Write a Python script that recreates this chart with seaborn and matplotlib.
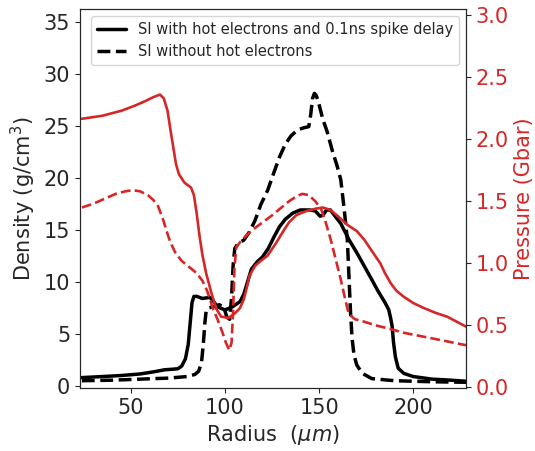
import matplotlib
matplotlib.use("Agg")
import matplotlib.pyplot as plt
import seaborn as sns

# density with hot electrons and 0.1ns spike delay (g/cm^3)
r_hot = [24, 35, 45, 55, 62, 68, 72, 75, 77, 79, 80.5, 81.5, 82.5, 83.5, 85, 88, 92,
         94, 96, 100, 104, 108, 110, 112, 114, 117, 120, 123, 126, 129, 132, 136, 140,
         145, 148, 150.5, 152, 154, 156, 158.5, 161.5, 166, 170, 174, 178, 181, 185,
         187, 188, 188.8, 189.5, 190.5, 192, 195, 200, 210, 220, 228]
rho_hot = [0.8, 0.9, 1.0, 1.15, 1.35, 1.55, 1.6, 1.65, 1.9, 2.6, 4.0, 6.0, 8.0, 8.6,
           8.6, 8.4, 8.5, 8.1, 7.6, 7.3, 7.6, 8.1, 8.8, 10.0, 11.2, 11.9, 12.4, 13.2,
           14.3, 15.3, 16.0, 16.6, 16.9, 16.9, 16.8, 16.3, 16.4, 16.9, 16.9, 16.3, 15.6,
           14.0, 12.8, 11.5, 10.2, 9.2, 8.0, 7.3, 6.5, 5.7, 4.2, 2.8, 1.7, 1.2, 0.9, 0.65,
           0.55, 0.45]

# density without hot electrons
r_cold = [24, 40, 55, 70, 80, 84, 86, 87.5, 88.5, 89.3, 90, 91.5, 94, 97, 99.5, 101,
          102.5, 103.5, 104.3, 105.2, 107, 110, 113, 116, 119, 122.7, 126, 129, 132, 135,
          138.6, 142, 144.5, 145.5, 146.5, 147.5, 148.5, 150, 152, 154.3, 157, 159.6,
          161.5, 163.3, 165, 166.7, 167.5, 168.5, 170, 173, 178, 190, 210, 228]
rho_cold = [0.5, 0.55, 0.65, 0.75, 0.9, 1.1, 1.4, 2.2, 4.0, 6.0, 7.2, 7.5, 7.6, 7.8,
            7.5, 6.6, 6.4, 8.5, 11.5, 13.2, 13.7, 14.0, 14.8, 15.9, 17.4, 18.8, 20.5,
            22.0, 23.2, 24.0, 24.6, 24.8, 24.9, 26.0, 27.6, 28.1, 27.9, 27.0, 25.6, 24.4,
            22.6, 21.1, 19.8, 17.0, 14.0, 7.0, 4.6, 3.0, 2.0, 1.2, 0.7, 0.5, 0.4, 0.35]

# pressure with hot electrons (Gbar)
rp_hot = [24, 35, 45, 52, 58, 62, 65.5, 67.5, 69.5, 71, 72.5, 74, 75.5, 78.5, 82, 83.5,
          85, 86.5, 88, 90, 93, 95.5, 98, 102, 105.5, 108, 110, 111.5, 113, 116, 119,
          122.5, 127, 131, 134, 138, 143, 148, 152, 156, 160, 165, 170, 174, 178, 182.5,
          185, 188, 191, 195, 200, 205.5, 212, 218, 223, 228]
p_hot = [2.165, 2.19, 2.23, 2.27, 2.31, 2.34, 2.36, 2.33, 2.23, 2.08, 1.94, 1.8, 1.72,
         1.65, 1.61, 1.55, 1.40, 1.22, 1.07, 0.92, 0.75, 0.63, 0.57, 0.56, 0.60, 0.64,
         0.71, 0.80, 0.90, 0.98, 1.02, 1.06, 1.16, 1.26, 1.33, 1.39, 1.42, 1.44, 1.45,
         1.43, 1.38, 1.31, 1.26, 1.19, 1.10, 1.00, 0.92, 0.84, 0.78, 0.73, 0.68, 0.64,
         0.60, 0.57, 0.53, 0.49]

# pressure without hot electrons
rp_cold = [24, 30, 36, 42, 47, 51, 55, 59, 62, 64.5, 67, 69, 71, 73.5, 77, 81, 85, 88,
           90.5, 93.5, 96, 98.5, 100.5, 102.3, 103.5, 104.3, 105, 106, 108, 111, 114.6,
           120, 125.3, 130, 134, 138, 141, 144.5, 148, 151, 153.5, 156.2, 159, 161.5, 164,
           165.8, 169, 173.8, 180, 188, 195, 205, 215, 228]
p_cold = [1.45, 1.48, 1.52, 1.56, 1.58, 1.59, 1.58, 1.55, 1.51, 1.46, 1.36, 1.26, 1.17,
          1.09, 1.02, 0.97, 0.92, 0.86, 0.78, 0.64, 0.55, 0.45, 0.36, 0.30, 0.36, 0.6,
          0.95, 1.13, 1.17, 1.22, 1.27, 1.33, 1.39, 1.45, 1.50, 1.54, 1.56, 1.55, 1.50,
          1.44, 1.33, 1.19, 1.02, 0.87, 0.70, 0.59, 0.55, 0.53, 0.50, 0.47, 0.44, 0.41,
          0.38, 0.34]

sns.set_style("ticks")
red = "#d62728"

fig = plt.figure(figsize=(5.35, 4.51), dpi=100)
ax = fig.add_axes([0.1495, 0.1397, 0.7215, 0.8403])

sns.lineplot(x=r_hot, y=rho_hot, ax=ax, color="black", lw=2.5,
             label="SI with hot electrons and 0.1ns spike delay")
sns.lineplot(x=r_cold, y=rho_cold, ax=ax, color="black", lw=2.5, ls="--",
             label="SI without hot electrons")
ax.set_xlim(23, 228)
ax.set_ylim(-0.2, 36.2)
ax.set_yticks([0, 5, 10, 15, 20, 25, 30, 35])
ax.set_xticks([50, 100, 150, 200])
ax.tick_params(labelsize=15)
ax.set_xlabel(r"Radius  ($\mu m$)", fontsize=15)
ax.set_ylabel(r"Density (g/cm$^3$)", fontsize=15)
ax.legend(loc="upper right", fontsize=10.5)

ax2 = ax.twinx()
sns.lineplot(x=rp_hot, y=p_hot, ax=ax2, color=red, lw=1.9)
sns.lineplot(x=rp_cold, y=p_cold, ax=ax2, color=red, lw=1.9, ls="--")
ax2.set_ylim(-0.005, 3.05)
ax2.set_yticks([0.0, 0.5, 1.0, 1.5, 2.0, 2.5, 3.0])
ax2.tick_params(axis="y", labelsize=15, labelcolor=red)
ax2.set_ylabel("Pressure (Gbar)", fontsize=15, color=red)

fig.savefig("out.png", dpi=100)
